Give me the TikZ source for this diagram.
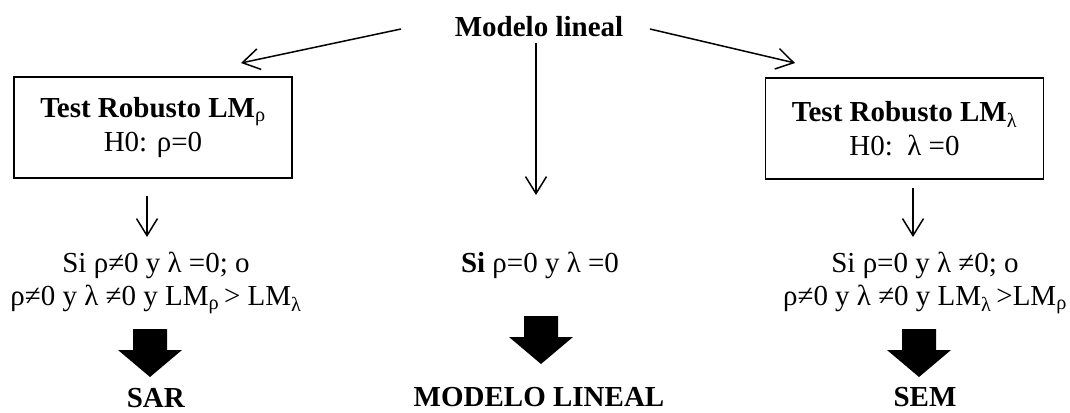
\documentclass[tikz,border=0pt]{standalone}
\usepackage{fontspec}
\setmainfont{Liberation Serif}
\usetikzlibrary{arrows.meta}
\tikzset{
  txt/.style={font=\fontsize{29}{33}\selectfont, inner sep=0pt},
  box/.style={draw, line width=1.5pt, minimum width=278pt, minimum height=101pt, align=center, inner sep=0pt, font=\fontsize{29}{34}\selectfont},
  arr/.style={line width=1.5pt, -{Straight Barb[length=17pt,width=21pt,line width=1.5pt]}},
  blockarr/.pic={\fill (-17,0) -- (17,0) -- (17,21) -- (32,21) -- (0,48) -- (-32,21) -- (-17,21) -- cycle;}
}
\newcommand{\sub}[1]{\textsubscript{\normalfont #1}}
\begin{document}
\begin{tikzpicture}[x=1pt,y=-1pt]
\useasboundingbox (0,0) rectangle (1070,412);
\node[txt, anchor=base] (title) at (539,37) {\textbf{Modelo lineal}};
\node[box] (lbox) at (153,127.5) {\textbf{Test Robusto LM}\sub{ρ}\\H0: ρ=0};
\node[box] (rbox) at (904.5,128.5) {\textbf{Test Robusto LM}\sub{λ}\\H0:\ \ λ =0};
% connectors from the title
\coordinate (lstart) at (401,29);
\coordinate (ltip) at (241,63);
\coordinate (rstart) at (650,29);
\coordinate (rtip) at (795,63);
\coordinate (cstart) at (536,43);
\coordinate (ctip) at (536,195);
\draw[arr] (lstart) -- (ltip);
\draw[arr] (rstart) -- (rtip);
\draw[arr] (cstart) -- (ctip);
% conditions
\node[txt, align=center, anchor=north] (lcond) at (156,252) {Si ρ≠0 y λ =0; o\\ρ≠0 y λ ≠0 y LM\sub{ρ}\,> LM\sub{λ}};
\node[txt, anchor=base] (mcond) at (540,272) {\textbf{Si} ρ=0 y λ =0};
\node[txt, align=center, anchor=north] (rcond) at (925,252) {Si ρ=0 y λ ≠0; o\\ρ≠0 y λ ≠0 y LM\sub{λ}\,>LM\sub{ρ}};
\coordinate (la) at (147,196);
\coordinate (lb) at (147,237);
\coordinate (ra) at (913,188);
\coordinate (rb) at (913,237);
\draw[arr] (la) -- (lb);
\draw[arr] (ra) -- (rb);
% block arrows
\pic at (150,329) {blockarr};
\pic at (541,316) {blockarr};
\pic at (919,329) {blockarr};
% results
\node[txt, anchor=base] (sar) at (156,407) {\textbf{SAR}};
\node[txt, anchor=base] (lin) at (539,406) {\textbf{MODELO LINEAL}};
\node[txt, anchor=base] (sem) at (925,406) {\textbf{SEM}};
\end{tikzpicture}
\end{document}
